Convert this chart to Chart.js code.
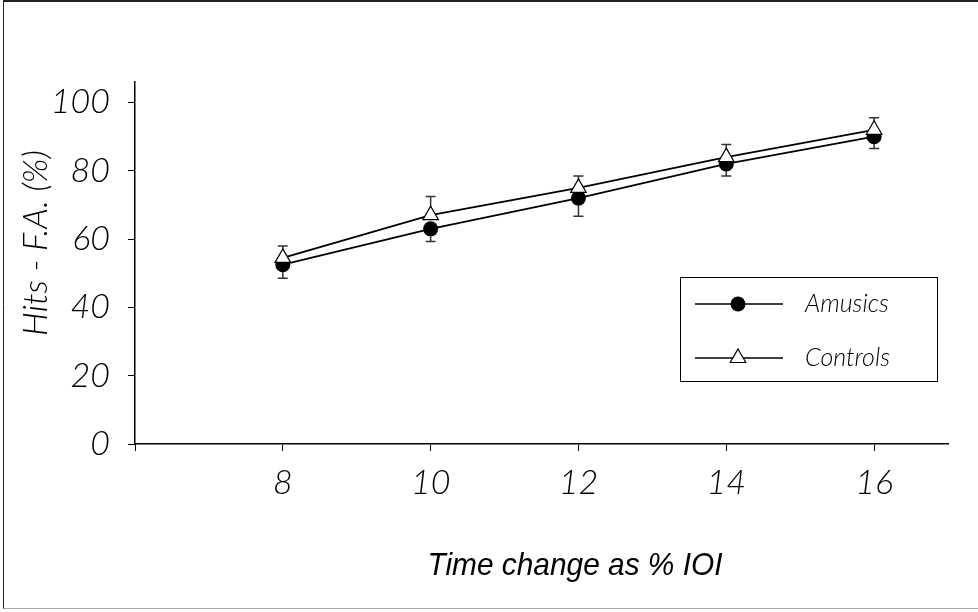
<!DOCTYPE html>
<html>
<head>
<meta charset="utf-8">
<script src="https://cdn.jsdelivr.net/npm/chart.js@4"></script>
<style>
  html, body { margin: 0; padding: 0; background: #fff; }
  #wrap { width: 978px; height: 612px; }
</style>
</head>
<body>
<div id="wrap"><canvas id="ioiChart" width="978" height="612"></canvas></div>
<script>
// time change (% of IOI) and detection scores, hits minus false alarms
const ioiSteps = [8, 10, 12, 14, 16];
const amusicsMean = [52.5, 63, 72, 82, 90];
const amusicsErr = [4, 3.7, 5.3, 3.5, 3.5];
const controlsMean = [54.5, 67, 75, 84, 92];
const controlsErr = [3.5, 5.5, 3.5, 3.7, 3.5];
const xTickValues = [6, 8, 10, 12, 14, 16];   // 6 only gets a tick mark
const yTickValues = [0, 20, 40, 60, 80, 100];

const TICK_FONT = "Lato, 'DejaVu Sans', sans-serif";

const toPoints = (ys) => ioiSteps.map((x, i) => ({ x: x, y: ys[i] }));

// whole-figure frame
const framePlugin = {
  id: 'frame',
  beforeDraw(chart) {
    const c = chart.ctx;
    c.save();
    c.fillStyle = '#fff';
    c.fillRect(0, 0, chart.width, chart.height);
    c.strokeStyle = '#222';
    c.lineWidth = 2;
    c.beginPath();
    c.moveTo(4, 1); c.lineTo(chart.width, 1);
    c.stroke();
    c.lineWidth = 1;
    c.beginPath();
    c.moveTo(3.5, 0); c.lineTo(3.5, 609);
    c.stroke();
    c.strokeStyle = '#aaa';
    c.beginPath();
    c.moveTo(3.5, 608.5); c.lineTo(chart.width, 608.5);
    c.stroke();
    c.restore();
  }
};

// one-sided error bars: amusics downward, controls upward
const errorBarPlugin = {
  id: 'errorBars',
  beforeDatasetsDraw(chart) {
    const c = chart.ctx;
    const xs = chart.scales.x, ys = chart.scales.y;
    c.save();
    c.strokeStyle = '#333';
    c.lineWidth = 1.5;
    chart.data.datasets.forEach((ds) => {
      ds.data.forEach((p, i) => {
        const px = xs.getPixelForValue(p.x);
        const y0 = ys.getPixelForValue(p.y);
        const y1 = ys.getPixelForValue(p.y + ds.errDir * ds.err[i]);
        c.beginPath();
        c.moveTo(px, y0); c.lineTo(px, y1);
        c.moveTo(px - 5, y1); c.lineTo(px + 5, y1);
        c.stroke();
      });
    });
    c.restore();
  }
};

function drawMarker(c, style, x, y, r) {
  c.beginPath();
  if (style === 'circle') {
    c.arc(x, y, r, 0, Math.PI * 2);
    c.fillStyle = '#000';
    c.fill();
  } else {
    c.moveTo(x, y - r);
    c.lineTo(x + r * Math.sqrt(3) / 2, y + r / 2);
    c.lineTo(x - r * Math.sqrt(3) / 2, y + r / 2);
    c.closePath();
    c.fillStyle = '#fff';
    c.fill();
    c.strokeStyle = '#000';
    c.lineWidth = 1.2;
    c.stroke();
  }
}

// axis titles and the boxed legend
const annotatePlugin = {
  id: 'annotate',
  afterDraw(chart) {
    const c = chart.ctx;
    c.save();
    c.fillStyle = '#000';

    c.font = "italic 300 34px " + TICK_FONT;
    c.textAlign = 'center';
    c.textBaseline = 'middle';
    c.save();
    c.translate(36, 243);
    c.rotate(-Math.PI / 2);
    c.fillText('Hits - F.A. (%)', 0, 0);
    c.restore();

    // narrow italic sans for the x title
    const xTitle = 'Time change as % IOI';
    c.font = "italic 32px 'Liberation Sans', Arial, sans-serif";
    const w = c.measureText(xTitle).width;
    c.save();
    c.translate(575, 566);
    c.scale(295 / w, 1);
    c.fillText(xTitle, 0, 0);
    c.restore();

    // legend
    c.strokeStyle = '#000';
    c.lineWidth = 1;
    c.strokeRect(680.5, 277.5, 257, 104);
    const rows = [
      { label: 'Amusics', style: 'circle', r: 7.5, y: 304 },
      { label: 'Controls', style: 'triangle', r: 9, y: 358 }
    ];
    rows.forEach((row) => {
      c.strokeStyle = '#000';
      c.lineWidth = 1.5;
      c.beginPath();
      c.moveTo(695, row.y); c.lineTo(783, row.y);
      c.stroke();
      drawMarker(c, row.style, 738, row.y, row.r);
      c.fillStyle = '#000';
      c.font = "italic 300 25px " + TICK_FONT;
      c.textAlign = 'left';
      c.textBaseline = 'middle';
      c.fillText(row.label, 805, row.y);
    });
    c.restore();
  }
};

new Chart(document.getElementById('ioiChart'), {
  type: 'line',
  data: {
    datasets: [{
      label: 'Amusics',
      data: toPoints(amusicsMean),
      err: amusicsErr,
      errDir: -1,
      borderColor: '#000',
      borderWidth: 1.8,
      pointStyle: 'circle',
      pointRadius: 7.5,
      pointBackgroundColor: '#000',
      pointBorderColor: '#000',
      pointBorderWidth: 0,
      tension: 0,
      order: 1
    }, {
      label: 'Controls',
      data: toPoints(controlsMean),
      err: controlsErr,
      errDir: 1,
      borderColor: '#000',
      borderWidth: 1.8,
      pointStyle: 'triangle',
      pointRadius: 9,
      pointBackgroundColor: '#fff',
      pointBorderColor: '#000',
      pointBorderWidth: 1.2,
      tension: 0,
      order: 0
    }]
  },
  options: {
    responsive: false,
    animation: false,
    devicePixelRatio: 1,
    layout: { padding: { top: 82, right: 30, left: 0, bottom: 0 } },
    plugins: {
      legend: { display: false },
      tooltip: { enabled: false }
    },
    scales: {
      x: {
        type: 'linear',
        min: 6,
        max: 17,
        afterBuildTicks: (axis) => { axis.ticks = xTickValues.map(v => ({ value: v })); },
        afterFit: (axis) => { axis.height = 168; },
        ticks: {
          autoSkip: false,
          maxRotation: 0,
          padding: 12,
          color: '#000',
          font: { family: TICK_FONT, size: 34, style: 'italic', weight: 300 },
          callback: (v) => (v === 6 ? '' : v)
        },
        grid: { drawOnChartArea: false, drawTicks: true, tickLength: 7, color: '#000', lineWidth: 1 },
        border: { display: true, color: '#000', width: 1.5 }
      },
      y: {
        min: 0,
        max: 106,
        afterBuildTicks: (axis) => { axis.ticks = yTickValues.map(v => ({ value: v })); },
        afterFit: (axis) => { axis.width = 135; },
        ticks: {
          autoSkip: false,
          padding: 18,
          color: '#000',
          font: { family: TICK_FONT, size: 34, style: 'italic', weight: 300 }
        },
        grid: { drawOnChartArea: false, drawTicks: true, tickLength: 7, color: '#000', lineWidth: 1 },
        border: { display: true, color: '#000', width: 1.5 }
      }
    }
  },
  plugins: [framePlugin, errorBarPlugin, annotatePlugin]
});
</script>
</body>
</html>
